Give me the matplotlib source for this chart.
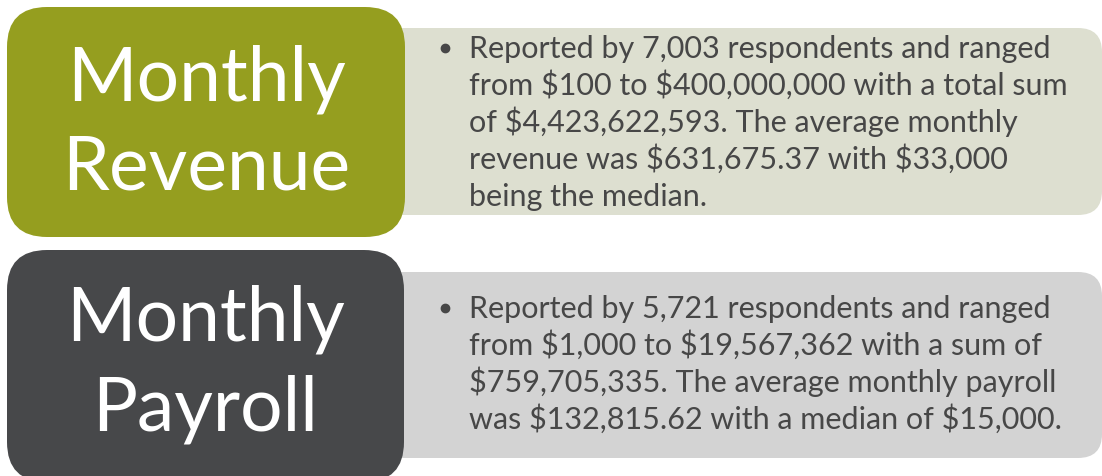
import matplotlib.pyplot as plt
from matplotlib.patches import FancyBboxPatch

plt.rcParams["text.parse_math"] = False

# ----- content -----
titles = [["Monthly", "Revenue"], ["Monthly", "Payroll"]]
body_lines = [
    ["Reported by 7,003 respondents and ranged",
     "from $100 to $400,000,000 with a total sum",
     "of $4,423,622,593. The average monthly",
     "revenue was $631,675.37 with $33,000",
     "being the median."],
    ["Reported by 5,721 respondents and ranged",
     "from $1,000 to $19,567,362 with a sum of",
     "$759,705,335. The average monthly payroll",
     "was $132,815.62 with a median of $15,000."],
]
title_colors = ["#959e1f", "#47484a"]
panel_colors = ["#dddfd0", "#d3d3d3"]

# block geometry in pixels (y grows downward)
title_boxes = [(7, 7, 398, 230), (7, 250, 397, 232)]      # x, y, w, h
panel_boxes = [(380, 28, 722, 187), (380, 272, 722, 186)]
title_baselines = [(100, 190), (340, 430)]
body_first_baseline = [58, 318]
line_step = 37

fig = plt.figure(figsize=(11.02, 4.76), dpi=100)
ax = fig.add_axes([0, 0, 1, 1])
ax.set_xlim(0, 1102)
ax.set_ylim(476, 0)
ax.axis("off")

for i in range(2):
    # light panel behind, with the text
    px, py, pw, ph = panel_boxes[i]
    ax.add_patch(FancyBboxPatch((px, py), pw, ph,
                                boxstyle="round,pad=0,rounding_size=24",
                                fc=panel_colors[i], ec="none", zorder=1))
    # coloured title block on top
    tx, ty, tw, th = title_boxes[i]
    ax.add_patch(FancyBboxPatch((tx, ty), tw, th,
                                boxstyle="round,pad=0,rounding_size=40",
                                fc=title_colors[i], ec="none", zorder=2))
    for word, yb in zip(titles[i], title_baselines[i]):
        ax.text(tx + tw / 2, yb, word, ha="center", va="baseline",
                fontsize=54, color="white", family="Lato", zorder=3)

    y0 = body_first_baseline[i]
    ax.plot(445, y0 - 10, "o", ms=6, color="#474747", zorder=3)
    for k, line in enumerate(body_lines[i]):
        ax.text(469, y0 + k * line_step, line, ha="left", va="baseline",
                fontsize=22, color="#474747", family="Lato", zorder=3)

plt.savefig("out.png", dpi=100)
